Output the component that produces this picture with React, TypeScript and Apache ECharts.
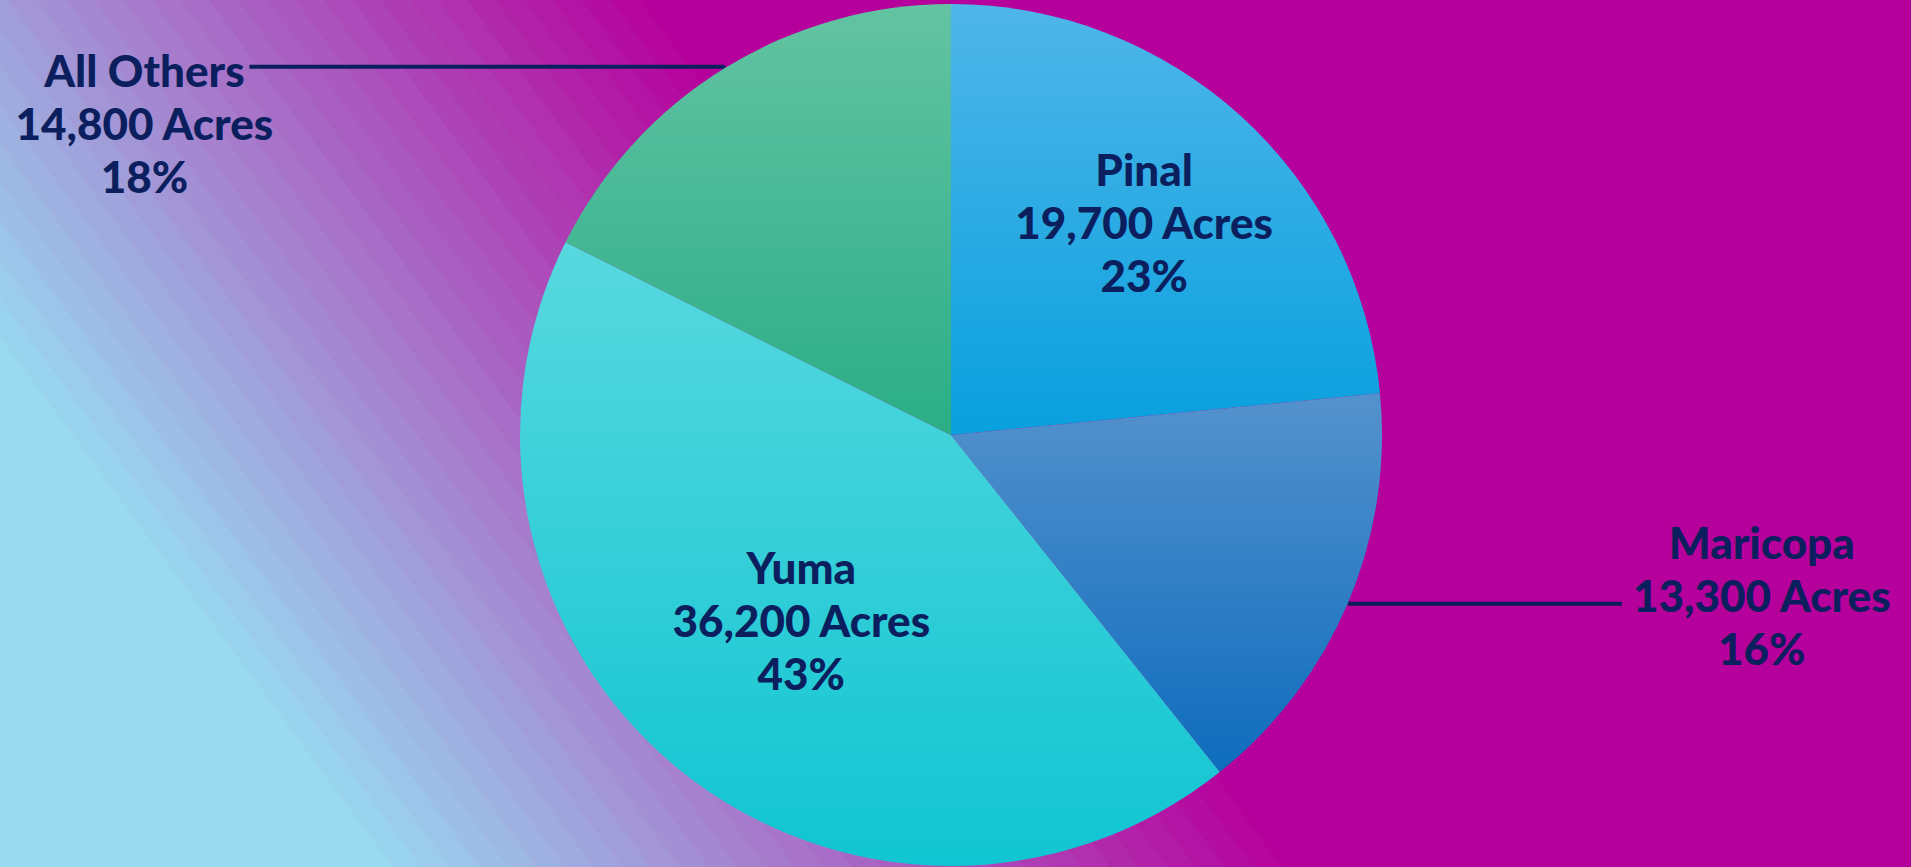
import React, { useEffect, useRef } from 'react';
import * as echarts from 'echarts';

// ---- data ----
const counties = ['Pinal', 'Maricopa', 'Yuma', 'All Others'];
const acres = [19700, 13300, 36200, 14800];
const unitLabel = 'Acres';

// ---- styling ----
const W = 1911;
const H = 867;
const CENTER = [951, 435];
const RADIUS = 431;
const NAVY = '#0B1F5E';
const sliceTop = ['#4FB6E9', '#5492CD', '#58D8DF', '#63C3A3'];
const sliceBottom = ['#08A0DE', '#0E6CBD', '#10C5D2', '#2AAE85'];
const placement = ['inside', 'outside', 'inside', 'outside'];
const insideRadiusFrac = [0.66, 0, 0.545, 0];
const leaderLen2 = [0, 272, 0, 474];
const labelPadding = [0, [0, 0, 17, 0], 0, [113, 0, 0, 0]];
const BG_FROM = '#99DAF1';
const BG_TO = '#B6009B';

function hexToRgb(h: string) {
  const n = parseInt(h.slice(1), 16);
  return [(n >> 16) & 255, (n >> 8) & 255, n & 255];
}
function mix(a: string, b: string, t: number) {
  const A = hexToRgb(a);
  const B = hexToRgb(b);
  const c = A.map((v, i) => Math.round(v + (B[i] - v) * t));
  return `rgb(${c[0]},${c[1]},${c[2]})`;
}
function bandStops(n: number) {
  const stops: { offset: number; color: string }[] = [{ offset: 0, color: BG_FROM }];
  for (let i = 0; i < n; i++) {
    const c = mix(BG_FROM, BG_TO, (i + 1) / n);
    stops.push({ offset: i / n, color: c }, { offset: (i + 1) / n, color: c });
  }
  return stops;
}

function labelText(p: any, style: string) {
  const pct = Math.round(p.percent);
  return `{${style}|${p.name}}\n{${style}|${Number(p.value).toLocaleString('en-US')} ${unitLabel}}\n{${style}|${pct}%}`;
}

const textBase = {
  fontFamily: 'Lato',
  fontWeight: 900 as const,
  fontSize: 44,
  lineHeight: 53,
  color: NAVY,
  align: 'center' as const,
};

export default function App() {
  const ref = useRef<HTMLDivElement>(null);

  useEffect(() => {
    if (!ref.current) return;
    const chart = echarts.init(ref.current, null, { renderer: 'svg' });
    const total = acres.reduce((a, b) => a + b, 0);
    // side of each slice (by mid angle) for outside label text box
    let cum = 0;
    const side = acres.map((v) => {
      const mid = (cum + v / 2) / total;
      cum += v;
      return mid < 0.5 ? 'r' : 'l';
    });

    const mainData = counties.map((name, i) => ({
      name,
      value: acres[i],
      itemStyle: {
        color: new echarts.graphic.LinearGradient(0, 0, 0, 1, [
          { offset: 0, color: sliceTop[i] },
          { offset: 1, color: sliceBottom[i] },
        ]),
      },
      label: {
        show: placement[i] === 'outside',
        padding: labelPadding[i] || 0,
      },
      labelLine: {
        show: placement[i] === 'outside',
        length: 2,
        length2: leaderLen2[i],
        lineStyle: { color: NAVY, width: 4 },
      },
    }));

    const insideSeries = counties
      .map((_, k) => k)
      .filter((k) => placement[k] === 'inside')
      .map((k) => {
        const f = insideRadiusFrac[k];
        const r0 = Math.max(0, (2 * f - 1) * RADIUS);
        return {
          type: 'pie',
          silent: true,
          center: CENTER,
          radius: [r0, RADIUS],
          startAngle: 90,
          clockwise: true,
          avoidLabelOverlap: false,
          itemStyle: { color: 'rgba(0,0,0,0)', borderWidth: 0 },
          emphasis: { disabled: true },
          labelLine: { show: false },
          label: {
            position: 'inside',
            formatter: (p: any) => labelText(p, 'c'),
            rich: { c: { ...textBase } },
          },
          data: counties.map((name, i) => ({
            name,
            value: acres[i],
            label: { show: i === k },
          })),
          z: 3,
        };
      });

    chart.setOption({
      animation: false,
      graphic: [
        {
          type: 'rect',
          z: -10,
          silent: true,
          shape: { x: 0, y: 0, width: W, height: H },
          style: {
            fill: new echarts.graphic.LinearGradient(-161, 120, 431, -319, bandStops(32), true),
          },
        },
      ],
      series: [
        {
          type: 'pie',
          center: CENTER,
          radius: RADIUS,
          startAngle: 90,
          clockwise: true,
          avoidLabelOverlap: false,
          emphasis: { disabled: true },
          itemStyle: { borderWidth: 0 },
          label: {
            position: 'outside',
            distanceToLabelLine: 5,
            formatter: (p: any) => labelText(p, side[p.dataIndex]),
            rich: {
              l: { ...textBase, width: 200 },
              r: { ...textBase, width: 270 },
            },
          },
          labelLine: {
            lineStyle: { color: NAVY, width: 4 },
          },
          data: mainData,
          z: 2,
        },
        ...insideSeries,
      ],
    });
    return () => chart.dispose();
  }, []);

  return (
    <div
      ref={ref}
      style={{ position: 'absolute', left: 0, top: 0, width: W, height: H }}
    />
  );
}
